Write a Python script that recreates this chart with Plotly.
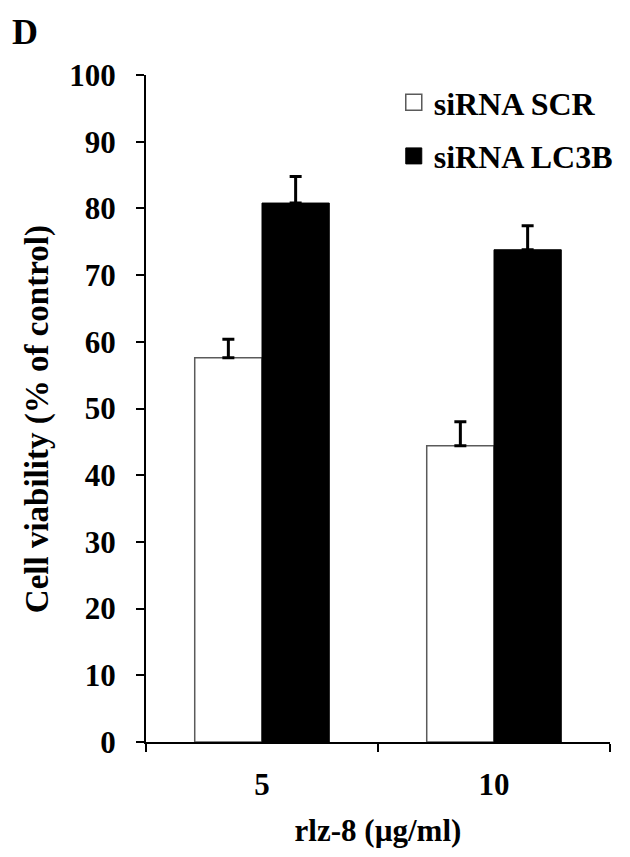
import plotly.graph_objects as go

# Data
doses = ["5", "10"]
scr_values = [57.6, 44.4]
scr_errors = [2.8, 3.6]
lc3b_values = [80.8, 73.8]
lc3b_errors = [4.0, 3.6]
y_ticks = [0, 10, 20, 30, 40, 50, 60, 70, 80, 90, 100]

FONT = "Liberation Serif"
ERR = dict(type="data", symmetric=False, color="black", thickness=3, width=6)

fig = go.Figure()

# siRNA SCR: white bars with gray outline
fig.add_trace(go.Bar(
    x=doses, y=scr_values, name="siRNA SCR", showlegend=False,
    marker=dict(color="white", line=dict(color="#5a5a5a", width=1.5)),
    error_y=dict(ERR, array=scr_errors, arrayminus=[0, 0]),
))

# siRNA LC3B: black bars
fig.add_trace(go.Bar(
    x=doses, y=lc3b_values, name="siRNA LC3B", showlegend=False,
    marker=dict(color="black", line=dict(color="black", width=1)),
    error_y=dict(ERR, array=lc3b_errors, arrayminus=[0, 0]),
))

# Legend entries with bigger square symbols
fig.add_trace(go.Scatter(
    x=[None], y=[None], mode="markers", name="siRNA SCR", legendgroup="scr",
    marker=dict(symbol="square", size=16, color="white", line=dict(color="#5a5a5a", width=1.5)),
))
fig.add_trace(go.Scatter(
    x=[None], y=[None], mode="markers", name="siRNA LC3B", legendgroup="lc3b",
    marker=dict(symbol="square", size=16, color="black", line=dict(color="black", width=1)),
))

fig.update_layout(
    width=630,
    height=857,
    barmode="group",
    bargap=0.42,
    bargroupgap=0,
    paper_bgcolor="white",
    plot_bgcolor="white",
    font=dict(family=FONT, color="black", size=30, weight="bold"),
    # page body adds 8px; margins compensate so the plot sits at x 146-610, y 75-742
    margin=dict(l=138, r=28, t=67, b=123),
    showlegend=True,
    legend=dict(
        x=0.534, y=1.0, xanchor="left", yanchor="top",
        font=dict(family=FONT, size=32, weight="bold"),
        bgcolor="rgba(0,0,0,0)",
        itemwidth=30,
        tracegroupgap=9,
    ),
    annotations=[
        # panel letter (kept inside the figure's own area)
        dict(text="D", x=-0.293, y=1.097, xref="paper", yref="paper", showarrow=False,
             xanchor="left", yanchor="top",
             font=dict(family=FONT, size=36, weight="bold")),
        # y axis title, placed as an annotation to match the reference offset
        dict(text="Cell viability (% of control)", x=-0.235, y=0.484, xref="paper", yref="paper",
             showarrow=False, textangle=-90, xanchor="center", yanchor="middle",
             font=dict(family=FONT, size=33, weight="bold")),
    ],
)

fig.update_xaxes(
    showline=True, linecolor="black", linewidth=2,
    ticks="outside", ticklen=8, tickwidth=2, tickcolor="black",
    tickson="boundaries",
    ticklabelstandoff=14,
    tickfont=dict(family=FONT, size=31, weight="bold"),
    title=dict(text="rlz-8 (µg/ml)", font=dict(family=FONT, size=31, weight="bold"), standoff=18),
    showgrid=False,
    automargin=False,
)
fig.update_yaxes(
    range=[0, 100],
    tickvals=y_ticks,
    showline=True, linecolor="black", linewidth=2,
    ticks="outside", ticklen=8, tickwidth=2, tickcolor="black",
    ticklabelstandoff=14,
    tickfont=dict(family=FONT, size=31, weight="bold"),
    showgrid=False,
    zeroline=False,
    automargin=False,
)

fig.write_html("out.html")
